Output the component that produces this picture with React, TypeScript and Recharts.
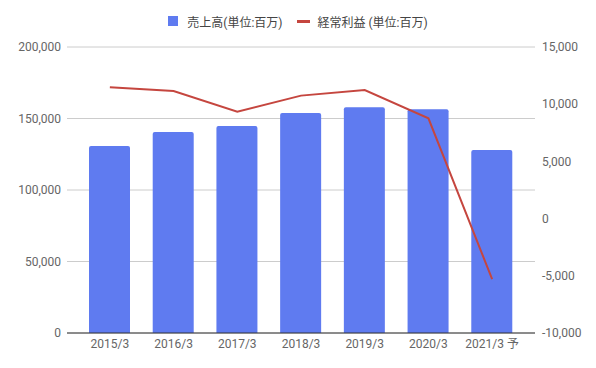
import React from 'react';
import { ComposedChart, Bar, Line, XAxis, YAxis, CartesianGrid, Legend } from 'recharts';

const categories = ['2015/3', '2016/3', '2017/3', '2018/3', '2019/3', '2020/3', '2021/3 予'];
const sales = [130800, 140600, 144800, 153800, 157800, 156400, 128000];
const profit = [11480, 11150, 9350, 10750, 11240, 8770, -5300];
const leftTicks = [0, 50000, 100000, 150000, 200000];
const rightTicks = [-10000, -5000, 0, 5000, 10000, 15000];

const data = categories.map((c, i) => ({ name: c, sales: sales[i], profit: profit[i] }));

const BLUE = '#5f7bf0';
const RED = '#c5463f';
const FONT = "Roboto, 'Noto Sans CJK JP', sans-serif";

const fmt = (v: number) => v.toLocaleString('en-US');

const LegendContent = () => (
  <div style={{ display: 'flex', justifyContent: 'center', alignItems: 'center', fontFamily: FONT, fontSize: 12, color: '#444', height: 18 }}>
    <span style={{ display: 'inline-block', width: 10, height: 10, background: BLUE, marginRight: 9 }} />
    <span style={{ marginRight: 14 }}>売上高(単位:百万)</span>
    <span style={{ display: 'inline-block', width: 13, height: 3, background: RED, marginRight: 8 }} />
    <span>経常利益 (単位:百万)</span>
  </div>
);

export default function App() {
  return (
    <div style={{ position: 'absolute', left: 0, top: 0, width: 596, height: 368, background: '#fff' }}>
      <ComposedChart width={596} height={368} data={data} margin={{ top: 47, right: 0, bottom: 5, left: 7 }}>
        <CartesianGrid yAxisId="left" vertical={false} stroke="#cccccc" />
        <XAxis
          dataKey="name"
          height={30}
          padding={{ left: 11, right: 11 }}
          tickLine={false}
          tickSize={4}
          tickMargin={2}
          axisLine={{ stroke: '#333333' }}
          tick={{ fill: '#666', fontSize: 12, fontFamily: FONT }}
          interval={0}
        />
        <YAxis
          yAxisId="left"
          orientation="left"
          width={60}
          domain={[0, 200000]}
          ticks={leftTicks}
          tickFormatter={fmt}
          axisLine={false}
          tickLine={false}
          tickSize={6}
          tickMargin={0}
          tick={{ fill: '#666', fontSize: 12, fontFamily: FONT }}
        />
        <YAxis
          yAxisId="right"
          orientation="right"
          width={61}
          domain={[-10000, 15000]}
          ticks={rightTicks}
          tickFormatter={fmt}
          axisLine={false}
          tickLine={false}
          tickSize={6}
          tickMargin={1}
          tick={{ fill: '#666', fontSize: 12, fontFamily: FONT, textAnchor: 'start' }}
        />
        <Legend verticalAlign="middle" align="center" wrapperStyle={{ top: 12, left: 0, width: 596 }} content={<LegendContent />} />
        <Bar yAxisId="left" dataKey="sales" fill={BLUE} barSize={41} radius={[2, 2, 0, 0]} isAnimationActive={false} />
        <Line yAxisId="right" dataKey="profit" stroke={RED} strokeWidth={2} dot={false} activeDot={false} isAnimationActive={false} />
      </ComposedChart>
    </div>
  );
}
